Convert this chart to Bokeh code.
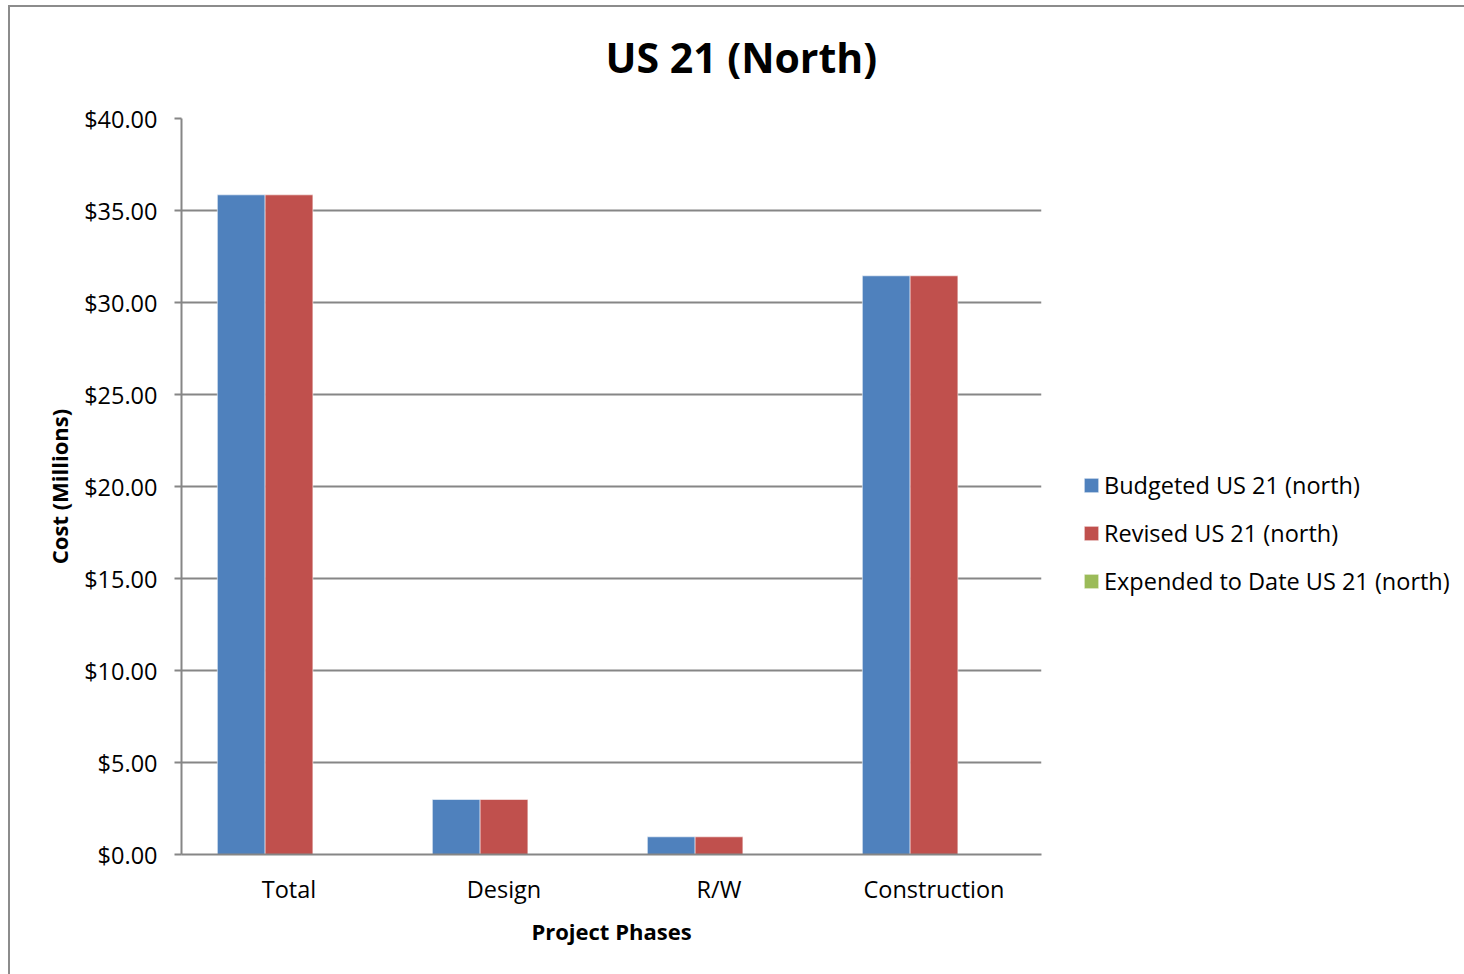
from bokeh.plotting import figure
from bokeh.models import (ColumnDataSource, FactorRange, Range1d, FixedTicker,
                          NumeralTickFormatter, Legend, LegendItem, Title)
from bokeh.transform import dodge
from bokeh.embed import file_html
from bokeh.resources import INLINE

# ---- data ----
phases = ["Total", "Design", "R/W", "Construction"]
budgeted = [35.85, 2.99, 0.96, 31.45]
revised = [35.85, 2.99, 0.96, 31.45]
expended = [0.0, 0.0, 0.0, 0.0]
series_names = ["Budgeted US 21 (north)", "Revised US 21 (north)", "Expended to Date US 21 (north)"]
series_colors = ["#4F81BD", "#C0504D", "#9BBB59"]
y_ticks = [0, 5, 10, 15, 20, 25, 30, 35, 40]
chart_title = "US 21 (North)"

FONT = "Open Sans"
GRID = "#868686"

src = ColumnDataSource(dict(phase=phases, budgeted=budgeted, revised=revised, expended=expended))

p = figure(x_range=FactorRange(factors=phases), y_range=Range1d(0, 40),
           frame_width=860, frame_height=736, output_backend="svg", toolbar_location=None,
           min_border_left=171, min_border_top=111, min_border_right=0, min_border_bottom=120,
           title=None)
p.styles = {"border-left": "2px solid #8c8c8c", "border-top": "2px solid #8c8c8c",
            "margin-left": "8px", "margin-top": "5px"}

# spacer panel between frame and title (white dot on white, effectively invisible)
p.add_layout(Title(text=".", text_font_size="1px", text_color="#ffffff", standoff=31), "above")
# main title
p.add_layout(Title(text=chart_title, text_font=FONT, text_font_size="41px",
                   text_font_style="bold", text_color="#000000",
                   align="left", offset=424, standoff=0), "above")

bw = 0.2222
cols = ["budgeted", "revised", "expended"]
offsets = [-bw, 0.0, bw]
renderers = []
for col, off, colr in zip(cols, offsets, series_colors):
    r = p.vbar(x=dodge("phase", off, range=p.x_range), top=col, width=bw, source=src,
               fill_color=colr, line_color="#ffffff", line_alpha=0.55, line_width=1)
    renderers.append(r)

# axes
p.outline_line_color = None
p.xgrid.grid_line_color = None
p.ygrid.grid_line_color = GRID
p.ygrid.grid_line_width = 2
p.ygrid.ticker = FixedTicker(ticks=y_ticks)

p.yaxis.ticker = FixedTicker(ticks=y_ticks)
p.yaxis.formatter = NumeralTickFormatter(format="$0.00")
for ax in (p.xaxis[0], p.yaxis[0]):
    ax.axis_line_color = GRID
    ax.axis_line_width = 2
    ax.major_label_text_font = FONT
    ax.major_label_text_font_size = "23.5px"
    ax.major_label_text_color = "#000000"
    ax.axis_label_text_font = FONT
    ax.axis_label_text_font_size = "22px"
    ax.axis_label_text_font_style = "bold"
    ax.axis_label_text_color = "#000000"
    ax.minor_tick_line_color = None

p.yaxis.major_tick_line_color = GRID
p.yaxis.major_tick_line_width = 2
p.yaxis.major_tick_out = 7
p.yaxis.major_tick_in = 0
p.yaxis.major_label_standoff = 17
p.yaxis.axis_label = "Cost (Millions)"
p.yaxis.axis_label_standoff = 7

p.xaxis.major_tick_line_color = None
p.xaxis.major_tick_out = 0
p.xaxis.major_tick_in = 0
p.xaxis.major_label_standoff = 18
p.xaxis.axis_label = "Project Phases"
p.xaxis.axis_label_standoff = 8

legend = Legend(items=[LegendItem(label=n, renderers=[r]) for n, r in zip(series_names, renderers)],
                location=(41, 257), orientation="vertical",
                glyph_width=18, glyph_height=18, label_standoff=4,
                label_height=24, spacing=16, padding=0, margin=0,
                border_line_color=None, background_fill_alpha=0,
                label_text_font=FONT, label_text_font_size="23.5px", label_text_color="#000000")
p.add_layout(legend, "right")

open("out.html", "w").write(file_html(p, INLINE))
